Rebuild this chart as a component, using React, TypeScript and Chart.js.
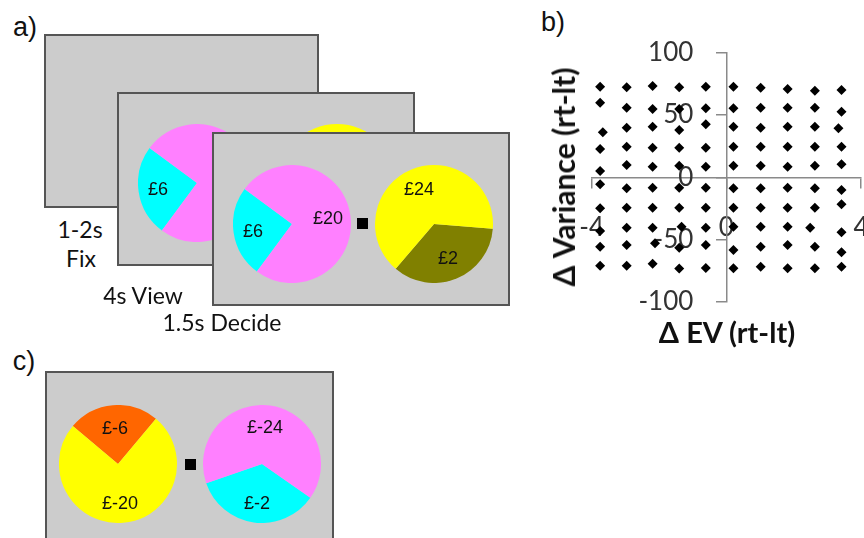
import React, { useEffect, useRef } from "react";
import { Chart, registerables } from "chart.js";

Chart.register(...registerables);

// ---- Panel b data: ΔEV (x) and ΔVariance (y), read row by row (top to bottom) ----
const pointEV: number[] = [
  -3.75, -2.96, -2.19, -1.40, -0.61, 0.21, 1.02, 1.82, 2.63, 3.42,
  -3.75, -2.96, -2.19, -1.40, -0.61, 0.21, 1.02, 1.82, 2.63, 3.42,
  -3.67, -2.96, -2.19, -1.40, -0.61, 0.21, 1.02, 1.82, 2.63, 3.33,
  -3.75, -2.96, -2.19, -1.40, -0.61, 0.21, 1.02, 1.82, 2.63, 3.42,
  -3.75, -2.96, -2.19, -1.40, -0.61, 0.21, 1.02, 1.82, 2.63, 3.42,
  -3.75, -2.96, -2.19, -1.40, -0.61, 0.21, 1.02, 1.82, 2.63, 3.42,
  -3.75, -2.96, -2.19, -1.40, -0.61, 0.21, 1.02, 1.82, 2.63, 3.42,
  -3.75, -2.96, -2.19, -1.33, -0.61, 0.21, 1.02, 1.82, 2.49, 3.42,
  -3.75, -2.96, -2.12, -1.40, -0.61, 0.21, 1.02, 1.82, 2.63, 3.42,
  -3.75, -2.96, -2.19, -1.40, -0.61, 0.21, 1.02, 1.82, 2.63, 3.42,
];
const pointVar: number[] = [
  72.7, 72.2, 73.3, 72.2, 72.7, 72.7, 71.9, 70.9, 69.5, 70.1,
  59.8, 55.9, 54.8, 54.8, 55.4, 55.4, 55.9, 55.9, 55.9, 52.7,
  36.1, 39.8, 40.6, 38.0, 42.6, 40.6, 39.8, 40.6, 40.6, 39.4,
  22.7, 24.6, 23.8, 23.8, 23.8, 24.6, 24.6, 24.6, 24.6, 24.6,
  5.1, 9.9, 8.5, 9.3, 8.5, 9.3, 9.3, 8.5, 9.3, 10.5,
  -5.6, -8.8, -8.3, -8.3, -8.3, -8.8, -8.8, -8.3, -8.8, -10.1,
  -24.8, -24.3, -24.3, -24.3, -24.3, -24.3, -24.3, -24.3, -24.3, -21.6,
  -43.0, -40.4, -40.4, -39.6, -40.4, -39.6, -39.6, -39.6, -40.4, -44.1,
  -55.6, -54.3, -52.9, -56.4, -54.3, -58.3, -55.6, -54.3, -55.6, -60.1,
  -71.0, -71.0, -69.4, -73.1, -72.7, -73.0, -71.7, -73.0, -73.0, -71.7,
];
const evTicks = [-4, 0, 4];
const varTicks = [-100, -50, 0, 50, 100];

// ---- Panel a/c pie data (shares of each wheel, %) ----
const gainLeftShares = [25, 75]; // £6 , £20
const gainLeftOutcomes = ["£6", "£20"];
const gainRightShares = [35, 65]; // £2 , £24
const gainRightOutcomes = ["£2", "£24"];
const lossLeftShares = [25, 75]; // £-6 , £-20
const lossLeftOutcomes = ["£-6", "£-20"];
const lossRightShares = [35, 65]; // £-2 , £-24
const lossRightOutcomes = ["£-2", "£-24"];
const phaseLabels = ["1-2s", "Fix", "4s View", "1.5s Decide"];

const PINK = "#ff80ff";
const CYAN = "#00ffff";
const YELLOW = "#ffff00";
const OLIVE = "#808000";
const ORANGE = "#ff6600";

type PieProps = {
  cx: number;
  cy: number;
  r: number;
  values: number[];
  colors: string[];
  rotation: number;
};

function Pie({ cx, cy, r, values, colors, rotation }: PieProps) {
  const ref = useRef<HTMLCanvasElement>(null);
  useEffect(() => {
    if (!ref.current) return;
    const chart = new Chart(ref.current, {
      type: "pie",
      data: {
        labels: values.map((_, i) => String(i)),
        datasets: [{ data: values, backgroundColor: colors, borderWidth: 0 }],
      },
      options: {
        animation: false,
        responsive: false,
        rotation,
        layout: { padding: 0 },
        plugins: { legend: { display: false }, tooltip: { enabled: false } },
      },
    });
    return () => chart.destroy();
  }, []);
  return (
    <canvas
      ref={ref}
      width={2 * r}
      height={2 * r}
      style={{ position: "absolute", left: cx - r, top: cy - r, width: 2 * r, height: 2 * r }}
    />
  );
}

function Screen({ l, t, w, h }: { l: number; t: number; w: number; h: number }) {
  return (
    <div
      style={{
        position: "absolute",
        left: l,
        top: t,
        width: w,
        height: h,
        boxSizing: "border-box",
        background: "#cccccc",
        border: "2px solid #555555",
      }}
    />
  );
}

function Txt({
  x,
  y,
  children,
  size,
  family,
  weight,
  rotate,
}: {
  x: number;
  y: number;
  children: React.ReactNode;
  size: number;
  family: string;
  weight?: number;
  rotate?: number;
}) {
  return (
    <div
      style={{
        position: "absolute",
        left: x,
        top: y,
        transform: `translate(-50%, -50%)${rotate ? ` rotate(${rotate}deg)` : ""}`,
        fontFamily: family,
        fontSize: size,
        fontWeight: weight || 400,
        lineHeight: `${size}px`,
        whiteSpace: "nowrap",
        color: "#111",
      }}
    >
      {children}
    </div>
  );
}

function Square({ x, y }: { x: number; y: number }) {
  return (
    <div style={{ position: "absolute", left: x - 5.5, top: y - 5.5, width: 11, height: 11, background: "#000" }} />
  );
}

function Scatter() {
  const ref = useRef<HTMLCanvasElement>(null);
  useEffect(() => {
    if (!ref.current) return;
    const tickFont = { family: "Lato", size: 26 };
    const chart = new Chart(ref.current, {
      type: "scatter",
      data: {
        datasets: [
          {
            data: pointEV.map((x, i) => ({ x, y: pointVar[i] })),
            pointStyle: "rectRot",
            pointRadius: 5,
            pointBackgroundColor: "#000",
            pointBorderColor: "#000",
            pointBorderWidth: 0,
          },
        ],
      },
      options: {
        animation: false,
        responsive: false,
        layout: { padding: { left: 91.7, top: 52.7, right: 59, bottom: 58 } },
        plugins: { legend: { display: false }, tooltip: { enabled: false } },
        scales: {
          x: {
            type: "linear",
            position: "center",
            min: evTicks[0],
            max: evTicks[evTicks.length - 1],
            afterBuildTicks: (s: any) => {
              s.ticks = evTicks.map((v) => ({ value: v }));
            },
            ticks: { font: tickFont, color: "#333", padding: 25, maxRotation: 0, autoSkip: false },
            grid: { drawOnChartArea: false, drawTicks: true, tickLength: 10, color: "#8a8a8a", lineWidth: 1.5 },
            border: { color: "#8a8a8a", width: 1.5 },
          },
          y: {
            type: "linear",
            position: "center",
            min: varTicks[0],
            max: varTicks[varTicks.length - 1],
            afterBuildTicks: (s: any) => {
              s.ticks = varTicks.map((v) => ({ value: v }));
            },
            ticks: { font: tickFont, color: "#333", padding: 23, autoSkip: false },
            grid: { drawOnChartArea: false, drawTicks: true, tickLength: 10, color: "#8a8a8a", lineWidth: 1.5 },
            border: { color: "#8a8a8a", width: 1.5 },
          },
        },
      },
    });
    return () => chart.destroy();
  }, []);
  return (
    <canvas
      ref={ref}
      width={420}
      height={360}
      style={{ position: "absolute", left: 500, top: 0, width: 420, height: 360 }}
    />
  );
}

export default function App() {
  const pieFont = "'Liberation Sans', Arial, sans-serif";
  const labFont = "Lato, 'Open Sans', sans-serif";
  return (
    <div
      style={{
        position: "fixed",
        left: 0,
        top: 0,
        width: 864,
        height: 538,
        overflow: "hidden",
        background: "#fff",
      }}
    >
      {/* panel letters */}
      <Txt x={25} y={27} size={27} family={pieFont}>a)</Txt>
      <Txt x={553} y={22} size={27} family={pieFont}>b)</Txt>
      <Txt x={24} y={361} size={27} family={pieFont}>c)</Txt>

      {/* panel a: screen 1 (fixation) */}
      <Screen l={44} t={34} w={275} h={174} />
      <Txt x={80} y={229} size={23} family={labFont}>{phaseLabels[0]}</Txt>
      <Txt x={81} y={258} size={23} family={labFont}>{phaseLabels[1]}</Txt>

      {/* screen 2 (view) */}
      <Screen l={117} t={92} w={298} h={174} />
      <Pie cx={197} cy={183} r={59} values={gainLeftShares} colors={[CYAN, PINK]} rotation={216.5} />
      <Pie cx={337} cy={183} r={59} values={gainRightShares} colors={[OLIVE, YELLOW]} rotation={94.5} />
      <Txt x={158} y={189} size={18} family={pieFont}>{gainLeftOutcomes[0]}</Txt>
      <Txt x={143} y={295} size={23} family={labFont}>{phaseLabels[2]}</Txt>

      {/* screen 3 (decide) */}
      <Screen l={212} t={132} w={298} h={174} />
      <Pie cx={291.5} cy={223.5} r={59} values={gainLeftShares} colors={[CYAN, PINK]} rotation={216.5} />
      <Pie cx={434} cy={223.5} r={59} values={gainRightShares} colors={[OLIVE, YELLOW]} rotation={94.5} />
      <Txt x={253} y={231} size={18} family={pieFont}>{gainLeftOutcomes[0]}</Txt>
      <Txt x={328} y={218} size={18} family={pieFont}>{gainLeftOutcomes[1]}</Txt>
      <Txt x={419} y={189} size={18} family={pieFont}>{gainRightOutcomes[1]}</Txt>
      <Txt x={448} y={258} size={18} family={pieFont}>{gainRightOutcomes[0]}</Txt>
      <Square x={362.7} y={223.3} />
      <Txt x={222} y={322} size={23} family={labFont}>{phaseLabels[3]}</Txt>

      {/* panel c */}
      <Screen l={45} t={371} w={289} h={200} />
      <Pie cx={118} cy={464} r={59} values={lossLeftShares} colors={[ORANGE, YELLOW]} rotation={310} />
      <Pie cx={262} cy={464} r={59} values={lossRightShares} colors={[CYAN, PINK]} rotation={125} />
      <Txt x={115} y={428} size={18} family={pieFont}>{lossLeftOutcomes[0]}</Txt>
      <Txt x={120} y={503} size={18} family={pieFont}>{lossLeftOutcomes[1]}</Txt>
      <Txt x={265} y={427} size={18} family={pieFont}>{lossRightOutcomes[1]}</Txt>
      <Txt x={257} y={503} size={18} family={pieFont}>{lossRightOutcomes[0]}</Txt>
      <Square x={190} y={464.3} />

      {/* panel b */}
      <Scatter />
      <Txt x={563} y={177} size={30} family={labFont} weight={700} rotate={-90}>
        Δ Variance (rt-lt)
      </Txt>
      <Txt x={727} y={331} size={29} family={labFont} weight={700}>
        Δ EV (rt-lt)
      </Txt>
    </div>
  );
}
